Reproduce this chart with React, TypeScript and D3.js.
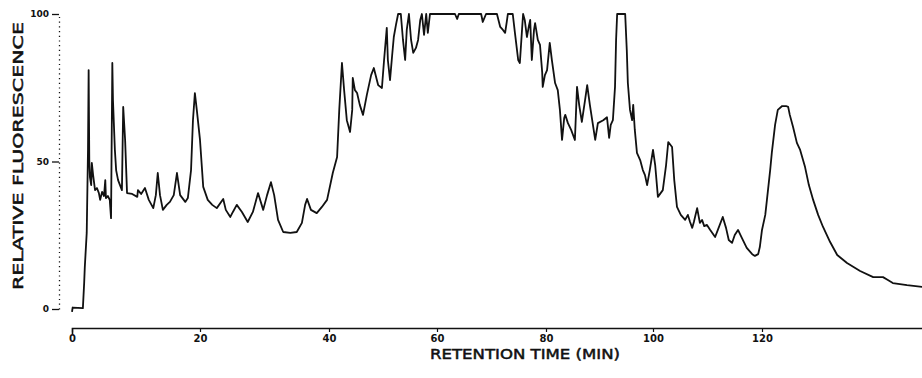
import { useEffect, useRef } from "react";
import * as d3 from "d3";

// tick labels
const timeTicks = [0, 20, 40, 60, 80, 100, 120];
const fluorTicks = [0, 50, 100];

// retention time (min) and relative fluorescence
const retentionTime = [
  0, 0.1, 1.7, 1.9, 2.0, 2.3, 2.5, 2.6, 2.7, 2.8, 3.0, 3.1, 3.3, 3.6, 3.9, 4.2, 4.4, 4.7, 5.0, 5.2,
  5.3, 5.6, 5.9, 6.1, 6.3, 6.4, 6.7, 6.9, 7.2, 7.5, 7.8, 8.0, 8.3, 8.6, 9.4, 10.2, 10.3, 10.8, 11.4, 12.0,
  12.7, 13.1, 13.4, 13.75, 14.2, 14.8, 15.3, 15.9, 16.4, 16.9, 17.7, 18.1, 18.6, 18.9, 19.2, 19.5, 20.0,
  20.5, 21.2, 21.9, 22.6, 23.6, 24.0, 24.7, 25.1, 25.7, 26.5, 27.4, 28.2, 29.0, 29.8, 30.4, 31.0, 31.5,
  32.1, 32.9, 34.0, 35.0, 35.8, 36.3, 36.6, 37.2, 38.1, 38.9, 39.7,
  40.7, 41.5, 41.9, 42.4, 42.8, 43.3, 43.9, 44.3, 44.4, 44.8, 45.2, 45.7, 46.3, 47.0, 47.8, 48.3, 49.1,
  49.8, 50.2, 50.7, 50.9, 51.3, 51.7, 52.0, 52.4, 52.8, 53.3, 53.7, 54.1, 54.4, 54.8, 55.2, 55.6, 56.1,
  56.5, 56.9, 57.2, 57.6, 58.0, 58.3, 58.7, 60.0,
  63.3, 63.7, 64.0, 68.1, 68.4, 69.0, 69.7, 71.0, 71.6, 72.1, 72.5, 72.8, 73.0, 73.9, 74.3, 74.9, 75.2,
  75.6, 75.8, 76.1, 76.5, 76.9, 77.1, 77.4, 77.8, 78.0, 78.5, 78.9, 79.3, 79.4, 79.8,
  80.2, 80.7, 81.1, 81.7, 82.2, 82.6, 83.0, 83.4, 83.6, 84.1, 84.7, 85.4, 85.8, 86.2, 86.7, 87.3, 87.7,
  88.2, 89.2, 89.7, 90.7, 91.4, 91.8, 92.1, 92.5, 92.9, 93.1, 93.3, 94.8, 95.1, 95.3, 95.7, 96.1, 96.3,
  96.6, 97.0, 97.6, 98.1, 98.5, 98.9, 99.4, 100.0,
  100.4, 100.9, 101.8, 102.4, 102.8, 103.5, 103.9, 104.4, 105.1, 105.9, 106.4, 106.8, 107.2, 107.5,
  108.1, 108.6, 109.0, 109.4, 109.9, 110.5, 111.4, 111.9, 112.8, 113.4, 113.9, 114.5, 115.0, 115.6,
  116.3, 117.2, 118.2, 118.7, 119.3, 119.6, 120.0,
  120.6, 120.9, 121.5, 121.8, 122.4, 122.9, 123.7, 124.4, 124.8, 125.1, 125.7, 126.4, 127.0, 127.9,
  128.6, 129.4, 130.3, 131.2, 132.5, 133.8, 135.6, 138.0, 140.4, 142.2, 143.1, 144.0, 146.6, 149.4,
];

const fluorescence = [
  -1, 0.5, 0.3, 8.8, 14.2, 25.8, 54, 81, 50.5, 44.7, 42, 49.5, 45.4, 40.3, 41, 39.3, 37, 39.7, 38.3, 43.7,
  37.6, 38.3, 37, 30.8, 83.4, 70.8, 53.9, 47, 43.7, 42, 40.3, 68.5, 57.3, 39.3, 39, 38, 40.3, 39, 41, 37,
  34.2, 38.6, 46.1, 38.6, 33.6, 35.3, 36.3, 38.6, 46.1, 38.6, 36.3, 37.6, 47.1, 64, 73.2, 67.5, 57.3,
  41.4, 37, 35.3, 34.2, 37.3, 33.6, 31.2, 32.9, 35.3, 32.9, 29.5, 32.9, 39.3, 33.6, 38.6, 43, 38.6,
  30.2, 26.1, 25.8, 26.1, 29.2, 35.3, 37.3, 33.6, 32.5, 34.6, 37,
  46.1, 51.5, 67.5, 83.4, 74.2, 64, 60, 67.5, 78.3, 74.2, 73.2, 69.2, 65.8, 72.5, 79.3, 81.7, 75.9,
  74.9, 84.4, 95.3, 84.4, 77.6, 86.1, 92.2, 96.3, 100, 100, 91.2, 84.4, 94.6, 100, 91.2, 86.8, 88.5,
  91.2, 98, 100, 92.9, 100, 93.6, 100, 100,
  100, 98.3, 100, 100, 97.3, 100, 100, 100, 95.6, 94.6, 93.6, 97.3, 100, 100, 93.6, 84.4, 83.4,
  94.6, 100, 98, 92.2, 96.3, 98, 84.4, 94.6, 96.9, 91.2, 89.5, 80.3, 75.3, 79.3,
  81, 90.2, 84.4, 76.6, 74.2, 67.5, 57.3, 64.7, 65.8, 63, 60.7, 57.3, 75.3, 69.2, 63.4, 70.8, 75.9,
  69.2, 57.3, 63, 64, 65, 58, 62.4, 64, 75.3, 91.2, 100, 100, 87.8, 76.6, 67.5, 64, 69.2,
  60.7, 52.9, 50.5, 47.1, 45.4, 42, 47.1, 53.9,
  48.8, 38, 40.3, 48.8, 56.6, 54.9, 43.7, 34.6, 31.9, 30.2, 31.9, 29.5, 27.5, 29.5,
  34.2, 29.2, 30.2, 28.1, 28.5, 26.8, 24.4, 26.8, 31.2, 27.5, 23.4, 22.4, 25.1, 26.8,
  24.1, 20.7, 18.6, 18, 18.6, 21, 26.8,
  31.9, 36.9, 47.1, 52.9, 62.4, 67.5, 68.8, 68.8, 68.5, 65.8, 61.7, 56.3, 53.9, 48.1,
  42, 36.9, 31.9, 27.8, 22.7, 18.3, 15.6, 12.9, 10.8, 10.8, 9.8, 8.8, 8.1, 7.5,
];

export default function App() {
  const ref = useRef<SVGSVGElement>(null);

  useEffect(() => {
    const svg = d3.select(ref.current);
    svg.selectAll("*").remove();

    // the printed time axis is not evenly spaced (0-40 wider than 40-120),
    // so use a piecewise scale to follow it
    const x = d3
      .scaleLinear()
      .domain([0, 20, 40, 60, 80, 100, 120, 150])
      .range([72, 200, 329, 437, 546, 653, 762, 925.5]);

    const y = d3.scaleLinear().domain([0, 100]).range([309, 14]);

    const ink = "#111";

    /* ---- x axis ---- */
    const gx = svg
      .append("g")
      .attr("transform", "translate(0,328)")
      .call(
        d3
          .axisBottom(x)
          .tickValues(timeTicks)
          .tickSizeInner(4)
          .tickSizeOuter(6)
          .tickPadding(3)
          .tickFormat(d3.format("d"))
      );
    gx.select(".domain").attr("stroke", ink).attr("stroke-width", 1.6);
    gx.selectAll(".tick line").attr("stroke", ink).attr("stroke-width", 1.2);
    gx.selectAll(".tick text")
      .attr("fill", ink)
      .attr("font-family", "DejaVu Sans")
      .attr("font-weight", "bold")
      .attr("font-size", 10);

    /* ---- y axis (dotted) ---- */
    const gy = svg
      .append("g")
      .attr("transform", "translate(59,0)")
      .call(
        d3
          .axisLeft(y)
          .tickValues(fluorTicks)
          .tickSizeInner(7)
          .tickSizeOuter(0)
          .tickPadding(3)
      );
    gy.select(".domain")
      .attr("stroke", ink)
      .attr("stroke-width", 1.3)
      .attr("stroke-dasharray", "1.2 3.5");
    gy.selectAll(".tick line").attr("stroke", ink).attr("stroke-width", 1.3);
    gy.selectAll(".tick text")
      .attr("fill", ink)
      .attr("font-family", "DejaVu Sans")
      .attr("font-weight", "bold")
      .attr("font-size", 9);

    /* ---- trace ---- */
    const points = retentionTime.map((t, i) => [t, fluorescence[i]] as [number, number]);
    const line = d3
      .line<[number, number]>()
      .x((d) => x(d[0]))
      .y((d) => y(d[1]));

    svg
      .append("path")
      .datum(points)
      .attr("d", line)
      .attr("fill", "none")
      .attr("stroke", ink)
      .attr("stroke-width", 1.8)
      .attr("stroke-linejoin", "round");

    /* ---- titles ---- */
    svg
      .append("text")
      .attr("transform", "translate(23,156) rotate(-90)")
      .attr("text-anchor", "middle")
      .attr("font-family", "DejaVu Sans")
      .attr("font-size", 14)
      .attr("fill", ink)
      .attr("stroke", ink)
      .attr("stroke-width", 0.5)
      .attr("textLength", 268)
      .attr("lengthAdjust", "spacingAndGlyphs")
      .text("RELATIVE FLUORESCENCE");

    svg
      .append("text")
      .attr("x", 525)
      .attr("y", 359)
      .attr("text-anchor", "middle")
      .attr("font-family", "DejaVu Sans")
      .attr("font-size", 14)
      .attr("fill", ink)
      .attr("stroke", ink)
      .attr("stroke-width", 0.5)
      .attr("textLength", 190)
      .attr("lengthAdjust", "spacingAndGlyphs")
      .text("RETENTION TIME (MIN)");
  }, []);

  return (
    <svg
      ref={ref}
      width={922}
      height={378}
      style={{ position: "absolute", left: 0, top: 0, background: "#fff" }}
    />
  );
}
